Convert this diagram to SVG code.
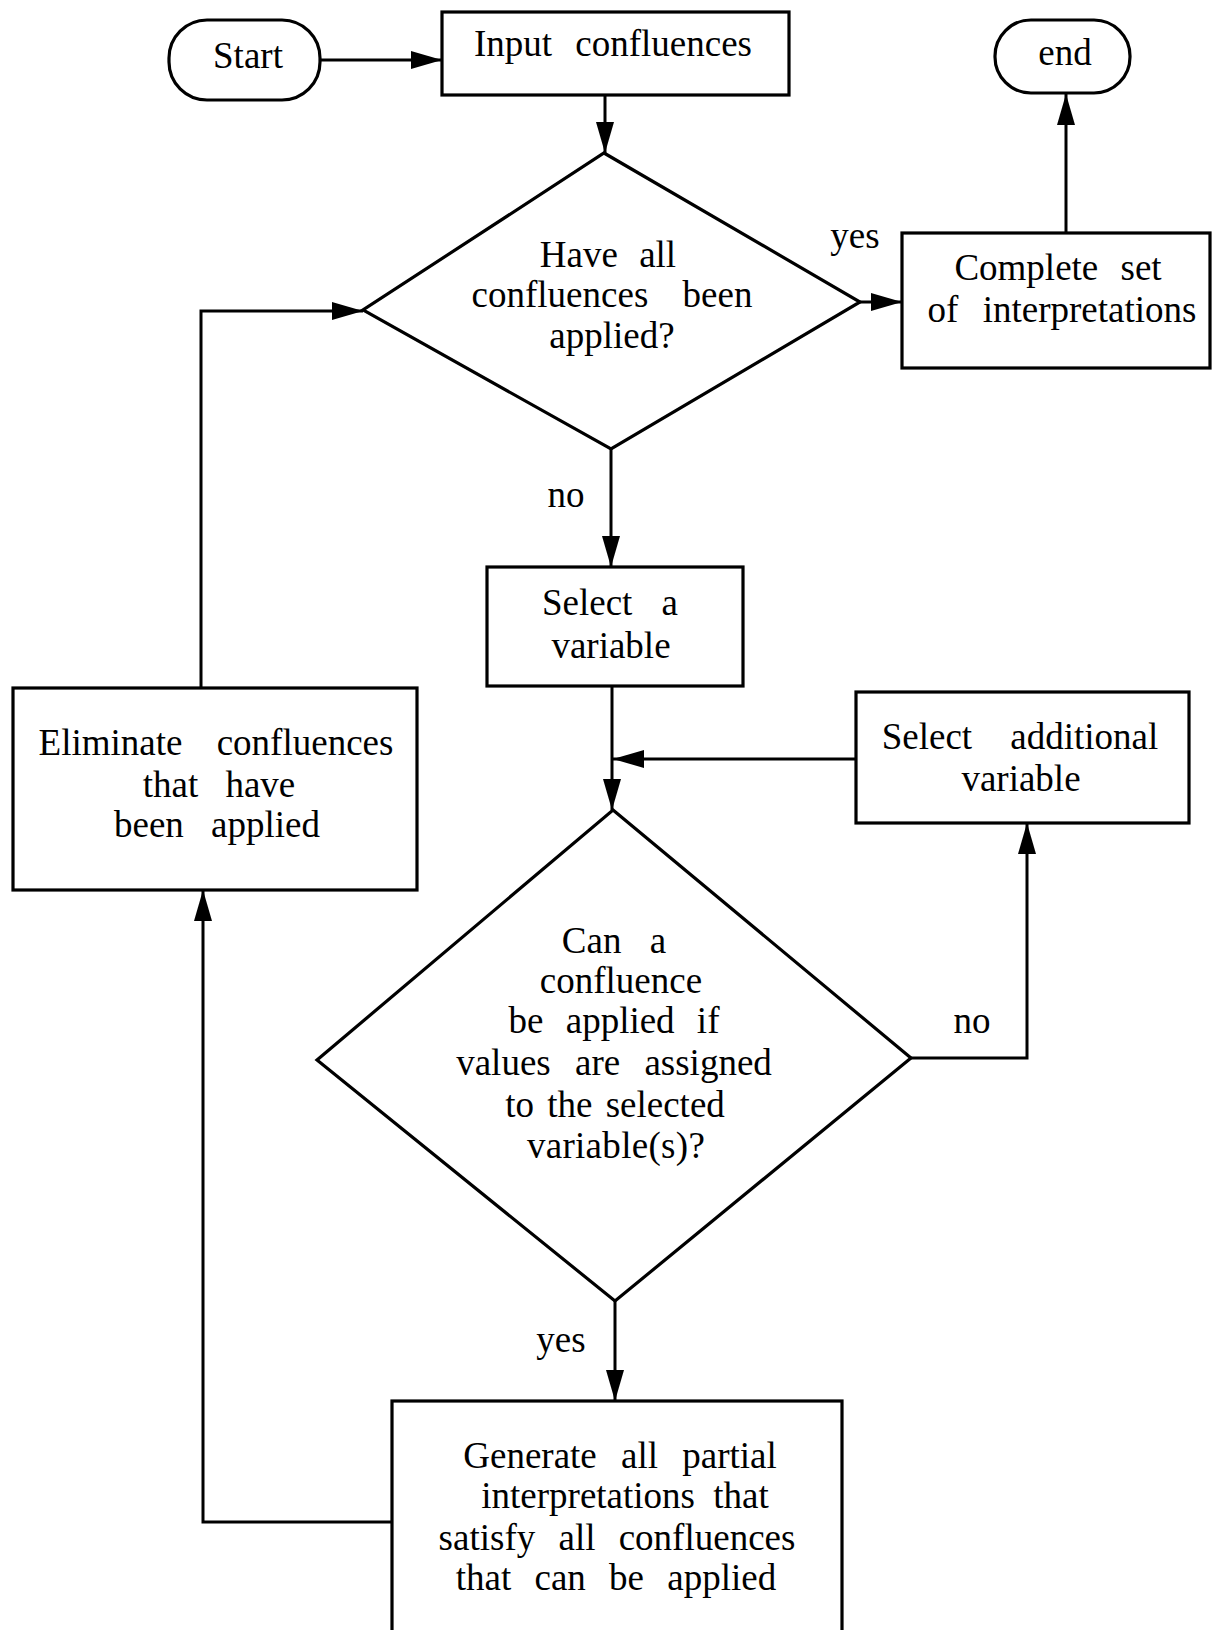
<svg xmlns="http://www.w3.org/2000/svg" width="1218" height="1630" viewBox="0 0 1218 1630">
  <style>
    .box { fill: #fff; stroke: #000; stroke-width: 3.2; }
    .line { fill: none; stroke: #000; stroke-width: 3; }
    text { font-family: "Liberation Serif", "Times New Roman", serif; font-size: 37px; fill: #000; text-anchor: middle; }
  </style>
  <defs>
    <marker id="arrow" viewBox="0 0 31 18" refX="31" refY="9" markerWidth="31" markerHeight="18" markerUnits="userSpaceOnUse" orient="auto">
      <path d="M0,0 L31,9 L0,18 Z" fill="#000"/>
    </marker>
  </defs>
  <rect width="1218" height="1630" fill="#fff"/>

  <g id="connectors">
    <line class="line" x1="320" y1="60" x2="442" y2="60" marker-end="url(#arrow)"/>
    <line class="line" x1="605" y1="95" x2="605" y2="153" marker-end="url(#arrow)"/>
    <line class="line" x1="860" y1="302" x2="902" y2="302" marker-end="url(#arrow)"/>
    <line class="line" x1="1066" y1="233" x2="1066" y2="94" marker-end="url(#arrow)"/>
    <line class="line" x1="611" y1="449" x2="611" y2="567" marker-end="url(#arrow)"/>
    <line class="line" x1="612" y1="686" x2="612" y2="810" marker-end="url(#arrow)"/>
    <line class="line" x1="856" y1="759" x2="613" y2="759" marker-end="url(#arrow)"/>
    <polyline class="line" points="911,1058 1027,1058 1027,823" marker-end="url(#arrow)"/>
    <line class="line" x1="615" y1="1301" x2="615" y2="1401" marker-end="url(#arrow)"/>
    <polyline class="line" points="392,1522 203,1522 203,890" marker-end="url(#arrow)"/>
    <polyline class="line" points="201,688 201,311 363,311" marker-end="url(#arrow)"/>
    <text x="855" y="248">yes</text>
    <text x="566" y="507">no</text>
    <text x="972" y="1033">no</text>
    <text x="561" y="1352">yes</text>
  </g>

  <g id="start">
    <rect class="box" x="169" y="20" width="151" height="80" rx="38" ry="38"/>
    <text x="248" y="68">Start</text>
  </g>

  <g id="input">
    <rect class="box" x="442" y="12" width="347" height="83"/>
    <text x="613" y="56" word-spacing="14">Input confluences</text>
  </g>

  <g id="all-applied">
    <polygon class="box" points="604,153 860,302 611,449 363,310"/>
    <text x="608" y="267" word-spacing="12">Have all</text>
    <text x="612" y="307" word-spacing="25">confluences been</text>
    <text x="612" y="348">applied?</text>
  </g>

  <g id="complete">
    <rect class="box" x="902" y="233" width="308" height="135"/>
    <text x="1058" y="280" word-spacing="13">Complete set</text>
    <text x="1062" y="322" word-spacing="15">of interpretations</text>
  </g>

  <g id="end">
    <rect class="box" x="995" y="20" width="135" height="73" rx="36" ry="36"/>
    <text x="1065" y="65">end</text>
  </g>

  <g id="select-variable">
    <rect class="box" x="487" y="567" width="256" height="119"/>
    <text x="610" y="615" word-spacing="20">Select a</text>
    <text x="611" y="658">variable</text>
  </g>

  <g id="select-additional">
    <rect class="box" x="856" y="692" width="333" height="131"/>
    <text x="1020" y="749" word-spacing="29">Select additional</text>
    <text x="1021" y="791">variable</text>
  </g>

  <g id="eliminate">
    <rect class="box" x="13" y="688" width="404" height="202"/>
    <text x="216" y="755" word-spacing="25">Eliminate confluences</text>
    <text x="219" y="797" word-spacing="18">that have</text>
    <text x="217" y="837" word-spacing="18">been applied</text>
  </g>

  <g id="can-apply">
    <polygon class="box" points="613,810 911,1058 615,1301 317,1060"/>
    <text x="614" y="953" word-spacing="19">Can a</text>
    <text x="621" y="993">confluence</text>
    <text x="614" y="1033" word-spacing="13">be applied if</text>
    <text x="614" y="1075" word-spacing="15">values are assigned</text>
    <text x="615" y="1117" word-spacing="4">to the selected</text>
    <text x="616" y="1158" letter-spacing="0.3">variable(s)?</text>
  </g>

  <g id="generate">
    <rect class="box" x="392" y="1401" width="450" height="240"/>
    <text x="620" y="1468" word-spacing="15">Generate all partial</text>
    <text x="625" y="1508" word-spacing="9">interpretations that</text>
    <text x="617" y="1550" word-spacing="14">satisfy all confluences</text>
    <text x="616" y="1590" word-spacing="14">that can be applied</text>
  </g>
</svg>
